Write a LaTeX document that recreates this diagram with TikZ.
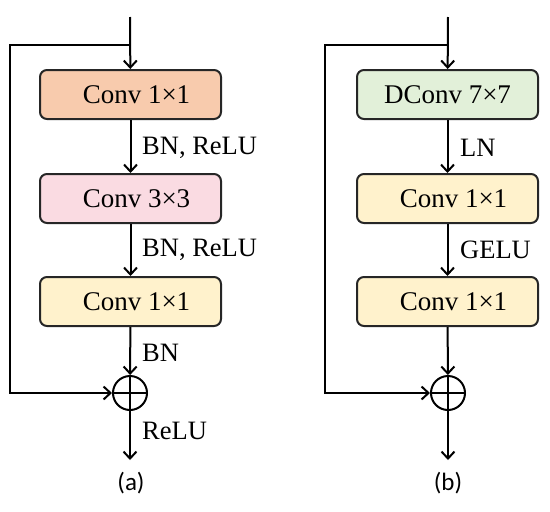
\documentclass[tikz,border=0pt]{standalone}
\usepackage{fontspec}
\setmainfont{Liberation Serif}
\newfontfamily\capfont{Carlito}
\usetikzlibrary{arrows.meta}
\definecolor{cpeach}{HTML}{F8CBAD}
\definecolor{cpink}{HTML}{FADBE2}
\definecolor{cyel}{HTML}{FFF2CC}
\definecolor{cgreen}{HTML}{E2F0D9}
\tikzset{
  blk/.style={draw=black!85, line width=2pt, rounded corners=7pt, minimum width=181pt, minimum height=49pt, inner sep=0pt, font=\fontsize{27}{30}\selectfont},
  arr/.style={line width=2pt, -{Straight Barb[length=7pt,width=13pt,line width=2pt]}},
  ln/.style={line width=2pt},
  lab/.style={anchor=west, inner sep=0pt, font=\fontsize{26.5}{30}\selectfont},
  captext/.style={inner sep=0pt, font=\capfont\fontsize{25}{28}\selectfont},
  sum/.style={draw, circle, line width=2pt, minimum size=34pt, inner sep=0pt}
}
\begin{document}
\begin{tikzpicture}[x=1pt,y=-1pt]
\useasboundingbox (0,0) rectangle (550,512);
% ---- (a)
\coordinate (atop) at (130,17);
\coordinate (aspl) at (130,45);
\coordinate (acor) at (10,393);
\coordinate (aout) at (130,460);
\node[blk, fill=cpeach] (a1) at (130.5,94.5) {\hspace{12pt}Conv 1×1};
\node[blk, fill=cpink] (a2) at (130.5,198.5) {\hspace{12pt}Conv 3×3};
\node[blk, fill=cyel] (a3) at (130.5,301.5) {\hspace{12pt}Conv 1×1};
\node[sum] (as) at (130,393) {};
\draw[ln] (as.north) -- (as.south) (as.west) -- (as.east);
\draw[arr] (atop) -- (a1);
\draw[arr] (a1) -- (a2);
\draw[arr] (a2) -- (a3);
\draw[arr] (a3) -- (as);
\draw[arr] (aspl) -| (acor) -- (as);
\draw[arr] (as) -- (aout);
\node[lab] (la1) at (142,148) {BN, ReLU};
\node[lab] (la2) at (142,250) {BN, ReLU};
\node[lab] (la3) at (142,353) {BN};
\node[lab] (la4) at (142,431) {ReLU};
\node[captext] (ca) at (131,483) {(a)};
% ---- (b)
\coordinate (btop) at (448,17);
\coordinate (bspl) at (448,45);
\coordinate (bcor) at (325,393);
\coordinate (bout) at (448,460);
\node[blk, fill=cgreen] (b1) at (447.5,94.5) {DConv 7×7};
\node[blk, fill=cyel] (b2) at (447.5,198.5) {\hspace{12pt}Conv 1×1};
\node[blk, fill=cyel] (b3) at (447.5,301.5) {\hspace{12pt}Conv 1×1};
\node[sum] (bs) at (448,393) {};
\draw[ln] (bs.north) -- (bs.south) (bs.west) -- (bs.east);
\draw[arr] (btop) -- (b1);
\draw[arr] (b1) -- (b2);
\draw[arr] (b2) -- (b3);
\draw[arr] (b3) -- (bs);
\draw[arr] (bspl) -| (bcor) -- (bs);
\draw[arr] (bs) -- (bout);
\node[lab] (lb1) at (460,148) {LN};
\node[lab] (lb2) at (460,250) {GELU};
\node[captext] (cb) at (448,483) {(b)};
\end{tikzpicture}
\end{document}
